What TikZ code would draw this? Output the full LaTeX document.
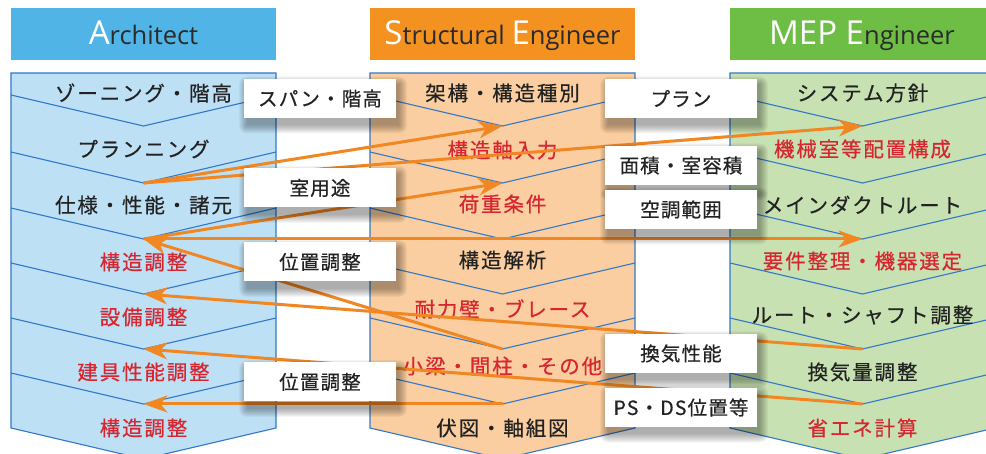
\documentclass[tikz,border=0pt]{standalone}
\usepackage{fontspec}
\setmainfont{Noto Sans CJK JP}
\newfontfamily\jpcol[LetterSpace=9,FakeBold=0.5]{Noto Sans CJK JP}
\newfontfamily\jpbox[LetterSpace=6,FakeBold=0.5]{Noto Sans CJK JP}
\newfontfamily\hdrfont{Open Sans}
\usetikzlibrary{arrows.meta}
\definecolor{archhead}{RGB}{80,180,230}
\definecolor{strhead}{RGB}{243,146,33}
\definecolor{mephead}{RGB}{110,190,70}
\definecolor{archfill}{RGB}{190,224,245}
\definecolor{strfill}{RGB}{250,206,160}
\definecolor{mepfill}{RGB}{200,225,178}
\definecolor{edgeblue}{RGB}{50,120,200}
\definecolor{txtred}{RGB}{214,38,48}
\definecolor{txtdark}{RGB}{34,34,34}
\definecolor{hdrdark}{RGB}{43,43,43}
\definecolor{arrorange}{RGB}{240,135,35}
\tikzset{
  colbox/.style={draw=edgeblue, line width=1.1pt},
  chev/.style={draw=edgeblue, line width=1.1pt},
  coltext/.style={font=\jpcol\fontsize{20.5}{22}\selectfont, text=txtdark, inner sep=0pt},
  redtext/.style={coltext, text=txtred},
  lbl/.style={fill=white, minimum width=152pt, minimum height=39pt, inner sep=0pt,
    font=\jpbox\fontsize{19.5}{21}\selectfont, text=txtdark},
  softshadow/.style={fill=black, opacity=0.04},
  arr/.style={draw=arrorange, line width=3pt, -{Stealth[length=24pt,width=17pt,inset=7pt]}}
}
\newcommand{\hdrbig}[1]{{\fontsize{33}{33}\selectfont\color{white}#1}}
\newcommand{\hdrsmall}[1]{{\fontsize{25.5}{26}\selectfont\color{hdrdark}#1}}
% label box with a soft drop shadow: name, x, y, text
\newcommand{\lblbox}[4]{%
  \foreach \k in {0,...,8} {
    \fill[softshadow, rounded corners=\k pt] (#2-73-\k, #3-14-\k) rectangle (#2+79+\k, #3+27+\k);
  }
  \node[lbl] (#1) at (#2,#3) {#4};}
\begin{document}
\begin{tikzpicture}[x=1pt,y=-1pt]
\useasboundingbox (0,0) rectangle (986,454);
\clip (0,0) rectangle (986,454);
\fill[white] (0,0) rectangle (986,454);

% headers
\fill[archhead] (11,8) rectangle (276,60);
\fill[strhead] (370,8) rectangle (635,60);
\fill[mephead] (730,8) rectangle (995,60);
\node[anchor=base, inner sep=0pt, font=\hdrfont] (hA) at (143.5,45) {\hdrbig{A}\hdrsmall{rchitect}};
\node[anchor=base, inner sep=0pt, font=\hdrfont] (hS) at (502.5,45) {\hdrbig{S}\hdrsmall{tructural\ }\hdrbig{E}\hdrsmall{ngineer}};
\node[anchor=base, inner sep=0pt, font=\hdrfont] (hM) at (862,45) {\hdrbig{MEP E}\hdrsmall{ngineer}};

% columns
\filldraw[colbox, fill=archfill] (11,73) -- (276,73) -- (276,428) -- (143.5,459) -- (11,428) -- cycle;
\filldraw[colbox, fill=strfill] (370,73) -- (635,73) -- (635,428) -- (502.5,459) -- (370,428) -- cycle;
\filldraw[colbox, fill=mepfill] (730,73) -- (995,73) -- (995,428) -- (862.5,459) -- (730,428) -- cycle;
\foreach \L/\c in {11/143.5, 370/502.5, 730/862.5} {
  \foreach \yy in {126,183,239,294,349,404} {
    \draw[chev] (\L,\yy-31) -- (\c,\yy) -- (\L+265,\yy-31);
  }
}

% chevron points
\foreach \yy in {126,183,239,294,349,404} {
  \coordinate (A\yy) at (143.5,\yy);
  \coordinate (S\yy) at (502.5,\yy);
  \coordinate (M\yy) at (862.5,\yy);
}

% Architect texts
\node[coltext] (a0) at (143.5,93) {ゾーニング・階高};
\node[coltext] (a1) at (143.5,149) {プランニング};
\node[coltext] (a2) at (143.5,205) {仕様・性能・諸元};
\node[redtext] (a3) at (143.5,262) {構造調整};
\node[redtext] (a4) at (143.5,317) {設備調整};
\node[redtext] (a5) at (143.5,372) {建具性能調整};
\node[redtext] (a6) at (143.5,428) {構造調整};
% Structural texts
\node[coltext] (s0) at (502.5,93) {架構・構造種別};
\node[redtext] (s1) at (502.5,150) {構造軸入力};
\node[redtext] (s2) at (502.5,204) {荷重条件};
\node[coltext] (s3) at (502.5,260) {構造解析};
\node[redtext] (s4) at (502.5,309) {耐力壁・ブレース};
\node[redtext] (s5) at (502.5,366) {小梁・間柱・その他};
\node[coltext] (s6) at (502.5,428) {伏図・軸組図};
% MEP texts
\node[coltext] (m0) at (862.5,93) {システム方針};
\node[redtext] (m1) at (862.5,149) {機械室等配置構成};
\node[coltext] (m2) at (862.5,205) {メインダクトルート};
\node[redtext] (m3) at (862.5,261) {要件整理・機器選定};
\node[coltext] (m4) at (862.5,315) {ルート・シャフト調整};
\node[coltext] (m5) at (862.5,372) {換気量調整};
\node[redtext] (m6) at (862.5,428) {省エネ計算};

% arrows
\draw[arr] (A183) -- (S126);
\draw[arr] (A183) -- (M126);
\draw[arr] (A239) -- (S183);
\draw[arr] (A239) -- (M239);
\draw[arr] (S349) -- (A239);
\draw[arr] (M349) -- (A294);
\draw[arr] (M404) -- (A349);
\draw[arr] (S404) -- (A404);

% label boxes
\lblbox{l1}{320}{98.5}{スパン・階高}
\lblbox{l2}{320}{188}{室用途}
\lblbox{l3}{320}{262}{位置調整}
\lblbox{l4}{320}{382}{位置調整}
\lblbox{r1}{681}{98.5}{プラン}
\lblbox{r2}{681}{165.5}{面積・室容積}
\lblbox{r3}{681}{209.5}{空調範囲}
\lblbox{r4}{681}{353.5}{換気性能}
\lblbox{r5}{681}{407.5}{PS・DS位置等}
\end{tikzpicture}
\end{document}
